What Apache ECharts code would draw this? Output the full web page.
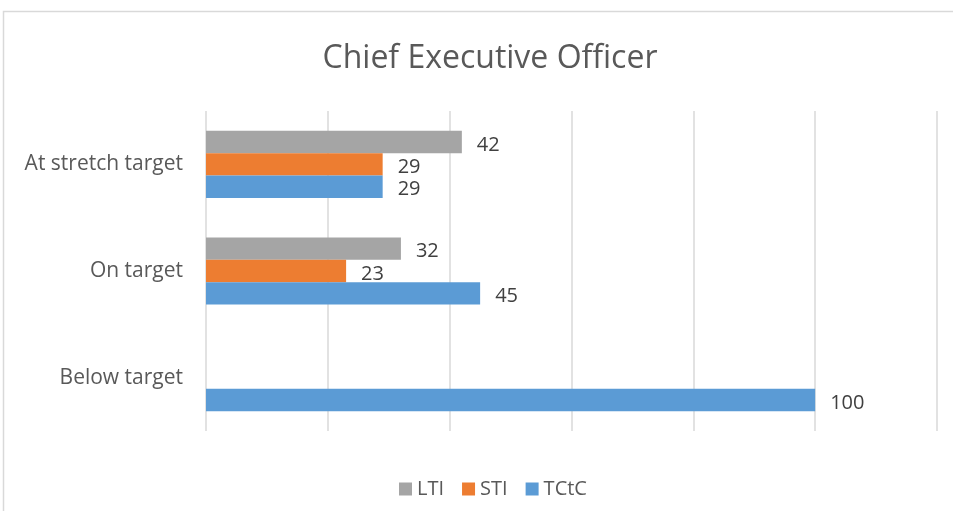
<!DOCTYPE html>
<html>
<head>
<meta charset="utf-8">
<script src="https://cdn.jsdelivr.net/npm/echarts@6/dist/echarts.min.js"></script>
<style>
  html, body { margin: 0; padding: 0; background: #fff; }
  #chart { width: 953px; height: 511px; }
</style>
</head>
<body>
<div id="chart"></div>
<script>
// categories bottom -> top (horizontal bars)
const categories = ['Below target', 'On target', 'At stretch target']
const tctc = [100, 45, 29]
const sti = ['-', 23, 29]
const lti = ['-', 32, 42]
const legendOrder = ['LTI', 'STI', 'TCtC']

const font = '"Open Sans", sans-serif'

const chart = echarts.init(document.getElementById('chart'))

function barSeries(name, data, color) {
  return {
    name: name,
    type: 'bar',
    data: data,
    barGap: '0%',
    barCategoryGap: '37%',
    itemStyle: { color: color },
    label: {
      show: true,
      position: 'right',
      distance: 15,
      offset: [0, 3],
      color: '#404040',
      fontSize: 20,
      fontFamily: font
    },
    animation: false
  }
}

chart.setOption({
  graphic: [{
    type: 'rect',
    shape: { x: 3.5, y: 11.5, width: 1000, height: 600 },
    style: { fill: 'none', stroke: '#d9d9d9', lineWidth: 1.5 },
    silent: true
  }],
  title: {
    text: 'Chief Executive Officer',
    left: 485,
    top: 38,
    textAlign: 'center',
    textStyle: {
      color: '#595959',
      fontSize: 32,
      fontWeight: 'normal',
      fontFamily: font
    }
  },
  legend: {
    data: legendOrder,
    left: 394,
    top: 474,
    itemWidth: 13,
    itemHeight: 13,
    itemGap: 18,
    icon: 'rect',
    textStyle: { color: '#595959', fontSize: 20, fontFamily: font }
  },
  grid: {
    left: 206,
    right: 16,
    top: 111,
    bottom: 80,
    containLabel: false
  },
  xAxis: {
    type: 'value',
    min: 0,
    max: 120,
    interval: 20,
    axisLabel: { show: false },
    axisLine: { show: false },
    axisTick: { show: false },
    splitLine: { show: true, lineStyle: { color: '#d9d9d9', width: 1.5 } }
  },
  yAxis: {
    type: 'category',
    data: categories,
    axisLine: { show: false },
    axisTick: { show: false },
    axisLabel: {
      color: '#595959',
      fontSize: 21,
      fontFamily: font,
      margin: 23,
      padding: [6, 0, 0, 0]
    }
  },
  // in a horizontal bar chart the first series sits on top of each group
  series: [
    barSeries('LTI', lti, '#a5a5a5'),
    barSeries('STI', sti, '#ed7d31'),
    barSeries('TCtC', tctc, '#5b9bd5')
  ]
})
</script>
</body>
</html>
